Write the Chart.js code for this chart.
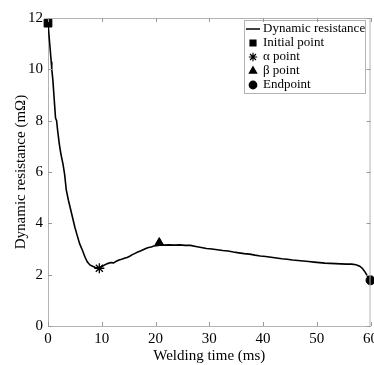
<!DOCTYPE html>
<html>
<head>
<meta charset="utf-8">
<script src="https://cdn.jsdelivr.net/npm/chart.js@4"></script>
<style>
html,body{margin:0;padding:0;background:#fff;overflow:hidden;}
#wrap{width:374px;height:365px;position:relative;overflow:hidden;}
</style>
</head>
<body>
<div id="wrap"><canvas id="c" width="382" height="365"></canvas></div>
<script>
const times = [0,0.2,0.4,0.6,0.7,0.9,1.1,1.3,1.4,1.6,1.8,2.1,2.4,2.8,3.1,3.4,3.8,4.2,4.6,5.0,5.4,5.9,6.4,6.9,7.3,7.8,8.3,8.8,9.3,9.7,10.2,10.7,11.2,11.7,12.2,12.7,13.2,13.7,14.2,14.7,15.2,15.7,16.2,16.7,17.2,17.7,18.2,18.7,19.2,19.7,20.2,20.7,21.5,22.5,23.5,24.5,25.5,26.5,27.5,28.5,29.5,30.5,31.5,32.5,33.5,34.5,35.5,36.5,37.5,38.5,39.5,40.5,41.5,42.5,43.5,44.5,45.5,46.5,47.5,48.5,49.5,50.5,51.5,52.5,53.5,54.5,55.5,56.5,57.3,58.0,58.5,59.0,59.5,60.0];
const resistance = [11.8,11.3,10.8,10.3,10.0,9.6,9.0,8.4,8.1,8.0,7.6,7.1,6.7,6.3,5.9,5.3,4.9,4.55,4.2,3.85,3.55,3.2,2.95,2.68,2.5,2.38,2.33,2.28,2.26,2.27,2.34,2.40,2.44,2.47,2.46,2.52,2.57,2.60,2.64,2.67,2.72,2.78,2.83,2.88,2.92,2.97,3.02,3.06,3.08,3.12,3.13,3.15,3.15,3.16,3.15,3.16,3.14,3.14,3.10,3.06,3.02,3.00,2.97,2.94,2.92,2.88,2.85,2.82,2.80,2.76,2.73,2.71,2.68,2.65,2.62,2.60,2.57,2.55,2.53,2.51,2.49,2.47,2.45,2.44,2.43,2.42,2.41,2.41,2.39,2.33,2.24,2.10,1.92,1.78];
const initialPoint = {x:0, y:11.8};
const alphaPoint = {x:9.55, y:2.25};
const betaPoint = {x:20.7, y:3.25};
const endPoint = {x:60, y:1.78};
const xTicks = [0,10,20,30,40,50,60];
const yTicks = [0,2,4,6,8,10,12];
const seriesLabels = ['Dynamic resistance','Initial point','\u03b1 point','\u03b2 point','Endpoint'];

const FONT = '"Liberation Serif", "Times New Roman", serif';
const legendRadius = [0, 4.2, 4.2, 4.2, 3.8];

const boxPlugin = {
  id:'box',
  afterDraw(chart){
    const {ctx, chartArea:a, scales:{x,y}} = chart;
    ctx.save();
    ctx.strokeStyle = '#b3b3b3';
    ctx.lineWidth = 1;
    ctx.beginPath();
    ctx.moveTo(a.left, a.top+0.5); ctx.lineTo(a.right, a.top+0.5);
    ctx.moveTo(a.right-0.5, a.top); ctx.lineTo(a.right-0.5, a.bottom);
    ctx.stroke();
    ctx.strokeStyle = '#999';
    ctx.beginPath();
    xTicks.forEach(v=>{
      const px = Math.round(x.getPixelForValue(v))+0.5;
      ctx.moveTo(px, a.bottom); ctx.lineTo(px, a.bottom-4);
      ctx.moveTo(px, a.top); ctx.lineTo(px, a.top+4);
    });
    yTicks.forEach(v=>{
      const py = Math.round(y.getPixelForValue(v))+0.5;
      ctx.moveTo(a.left, py); ctx.lineTo(a.left+4, py);
      ctx.moveTo(a.right, py); ctx.lineTo(a.right-4, py);
    });
    ctx.stroke();
    ctx.restore();
  },
  afterDatasetsDraw(chart){
    const ctx = chart.ctx;
    ctx.save();
    const lx = 244, ly = 20, lw = 121, lh = 73;
    ctx.fillStyle = '#fff';
    ctx.fillRect(lx, ly, lw, lh);
    ctx.strokeStyle = '#b3b3b3';
    ctx.lineWidth = 1;
    ctx.strokeRect(lx+0.5, ly+0.5, lw, lh);
    ctx.font = '13px ' + FONT;
    ctx.textBaseline = 'middle';
    ctx.textAlign = 'left';
    chart.data.datasets.forEach((d,i)=>{
      const cy = ly + 9 + i*14;
      ctx.fillStyle = '#000'; ctx.strokeStyle = '#000';
      if(i===0){
        ctx.lineWidth = 1.5;
        ctx.beginPath(); ctx.moveTo(lx+2, cy); ctx.lineTo(lx+16, cy); ctx.stroke();
      } else {
        ctx.lineWidth = 1.2;
        Chart.helpers.drawPoint(ctx, {pointStyle:d.pointStyle, radius:legendRadius[i], borderWidth:1.2, rotation:0}, lx+9, cy);
      }
      ctx.fillStyle = '#000';
      ctx.fillText(d.label, lx+19, cy);
    });
    ctx.restore();
  }
};

new Chart(document.getElementById('c'), {
  type:'scatter',
  data:{
    datasets:[
      {label:seriesLabels[0], data:times.map((t,i)=>({x:t,y:resistance[i]})), showLine:true, borderColor:'#000', borderWidth:1.6, pointRadius:0, pointStyle:'line', tension:0, order:5},
      {label:seriesLabels[1], data:[initialPoint], pointStyle:'rect', pointRadius:5.5, backgroundColor:'#000', borderColor:'#000', borderWidth:1, order:1, clip:false},
      {label:seriesLabels[2], data:[alphaPoint], pointStyle:'star', pointRadius:5, backgroundColor:'#000', borderColor:'#000', borderWidth:1.3, order:1, clip:false},
      {label:seriesLabels[3], data:[betaPoint], pointStyle:'triangle', pointRadius:5, backgroundColor:'#000', borderColor:'#000', borderWidth:1, order:1, clip:false},
      {label:seriesLabels[4], data:[endPoint], pointStyle:'circle', pointRadius:4.5, backgroundColor:'#000', borderColor:'#000', borderWidth:1, order:1, clip:false}
    ]
  },
  options:{
    responsive:false,
    animation:false,
    layout:{padding:{top:18,right:0,left:12,bottom:0}},
    plugins:{legend:{display:false}, tooltip:{enabled:false}},
    scales:{
      x:{type:'linear', min:0, max:60,
        afterBuildTicks(s){ s.ticks = xTicks.map(v=>({value:v})); },
        grid:{display:false, drawTicks:false},
        border:{display:true, color:'#b3b3b3', width:1},
        ticks:{color:'#000', font:{family:FONT, size:15}, padding:4, maxRotation:0, autoSkip:false},
        title:{display:true, text:'Welding time (ms)', color:'#000', font:{family:FONT, size:15}, padding:{top:-5,bottom:0}}
      },
      y:{min:0, max:12,
        afterBuildTicks(s){ s.ticks = yTicks.map(v=>({value:v})); },
        grid:{display:false, drawTicks:false},
        border:{display:true, color:'#b3b3b3', width:1},
        ticks:{color:'#000', font:{family:FONT, size:15}, padding:5},
        title:{display:true, text:'Dynamic resistance (m\u03a9)', color:'#000', font:{family:FONT, size:15}, padding:{top:0,bottom:-7}}
      }
    }
  },
  plugins:[boxPlugin]
});
</script>
</body>
</html>
